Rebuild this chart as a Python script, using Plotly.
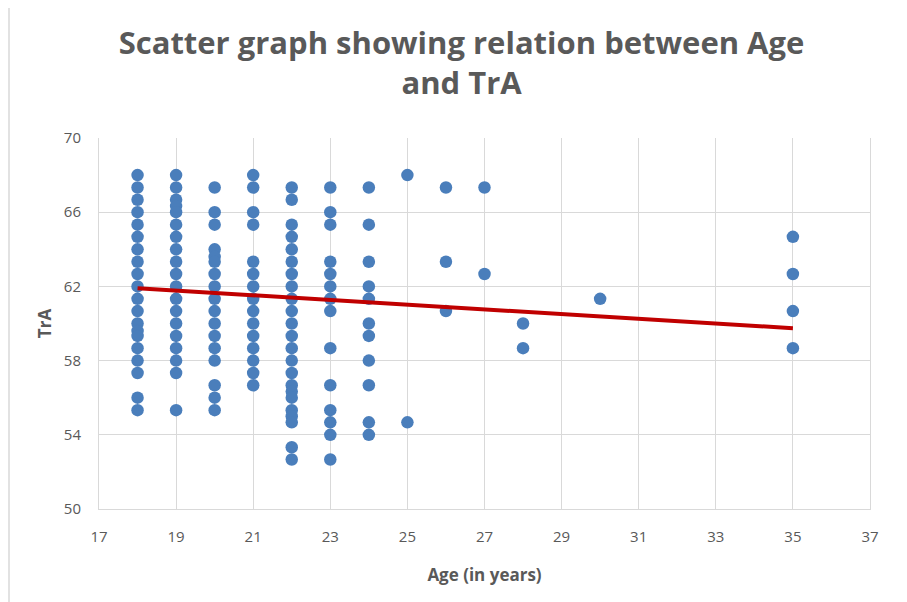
import plotly.graph_objects as go

# TrA values per age
age_18 = [68, 67.33, 66.67, 66, 65.33, 64.67, 64, 63.33, 62.67, 62, 61.33, 60.67, 60, 59.6, 59.33, 58.67, 58, 57.33, 56, 55.33]
age_19 = [68, 67.33, 66.67, 66.33, 66, 65.33, 64.67, 64, 63.33, 62.67, 62, 61.33, 60.67, 60, 59.33, 58.67, 58, 57.33, 55.33]
age_20 = [67.33, 66, 65.33, 64, 63.6, 63.33, 62.67, 62, 61.33, 60.67, 60, 59.33, 58.67, 58, 56.67, 56, 55.33]
age_21 = [68, 67.33, 66, 65.33, 63.33, 62.67, 62, 61.33, 60.67, 60, 59.33, 58.67, 58, 57.33, 56.67]
age_22 = [67.33, 66.67, 65.33, 64.67, 64, 63.33, 62.67, 62, 61.33, 60.67, 60, 59.33, 58.67, 58, 57.33, 56.67, 56.33, 56, 55.33, 55, 54.67, 53.33, 52.67]
age_23 = [67.33, 66, 65.33, 63.33, 62.67, 62, 61.33, 60.67, 58.67, 56.67, 55.33, 54.67, 54, 52.67]
age_24 = [67.33, 65.33, 63.33, 62, 61.33, 60, 59.33, 58, 56.67, 54.67, 54]
age_25 = [68, 54.67]
age_26 = [67.33, 63.33, 60.67]
age_27 = [67.33, 62.67]
age_28 = [60, 58.67]
age_30 = [61.33]
age_35 = [64.67, 62.67, 60.67, 58.67]

groups = {18: age_18, 19: age_19, 20: age_20, 21: age_21, 22: age_22, 23: age_23,
          24: age_24, 25: age_25, 26: age_26, 27: age_27, 28: age_28, 30: age_30, 35: age_35}

# linear trendline as shown on the chart
trend_slope = -0.127
trend_intercept = 64.19
trend_ages = [18, 35]

x_ticks = list(range(17, 38, 2))
y_ticks = [50, 54, 58, 62, 66, 70]

ages = []
tra = []
for a, vals in groups.items():
    ages += [a] * len(vals)
    tra += vals

trend_tra = [trend_slope * a + trend_intercept for a in trend_ages]

grey = "#595959"
grid = "#d9d9d9"

fig = go.Figure()
fig.add_trace(go.Scatter(x=ages, y=tra, mode="markers",
                         marker=dict(color="#4a7ebb", size=12.5, line=dict(width=0)),
                         showlegend=False, hoverinfo="x+y"))
fig.add_trace(go.Scatter(x=trend_ages, y=trend_tra, mode="lines",
                         line=dict(color="#c00000", width=4),
                         showlegend=False, hoverinfo="skip"))

fig.update_layout(
    width=907, height=602,
    margin=dict(l=91, r=45, t=130, b=101, autoexpand=False),
    paper_bgcolor="white", plot_bgcolor="white",
    font=dict(family="Open Sans", color=grey),
    title=dict(text="<b>Scatter graph showing relation between Age<br>and TrA</b>",
               x=0.5, xanchor="center", xref="container",
               y=0.924, yanchor="top", yref="container",
               font=dict(size=31, color=grey, family="Open Sans")),
    xaxis=dict(range=[17, 37], tickvals=x_ticks, showgrid=True, gridcolor=grid,
               gridwidth=1, zeroline=False, showline=True, linecolor=grid, ticks="",
               ticklabelstandoff=14,
               tickfont=dict(size=15, color=grey),
               title=dict(text="<b>Age (in years)</b>", font=dict(size=17, color=grey), standoff=24)),
    yaxis=dict(range=[50, 70], tickvals=y_ticks, showgrid=True, gridcolor=grid,
               gridwidth=1, zeroline=False, showline=True, mirror=True, linecolor=grid, ticks="",
               ticklabelstandoff=14,
               tickfont=dict(size=15, color=grey),
               title=dict(text="<b>TrA</b>", font=dict(size=17, color=grey), standoff=7)),
    shapes=[dict(type="rect", xref="paper", yref="paper",
                 x0=-90 / 771, x1=1 + 40 / 771, y0=-100 / 371, y1=1 + 136 / 371,
                 line=dict(color=grid, width=1.5), fillcolor="rgba(0,0,0,0)", layer="below")],
)

fig.write_html("out.html")
